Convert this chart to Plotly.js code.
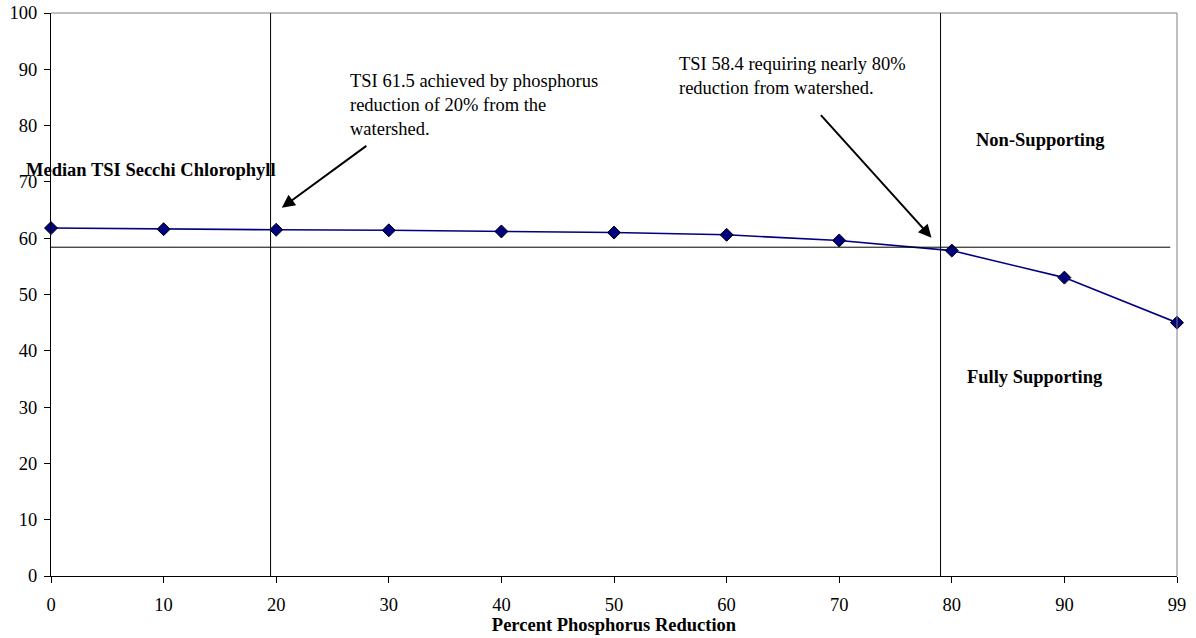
<!DOCTYPE html>
<html>
<head>
<meta charset="utf-8">
<script src="https://cdn.plot.ly/plotly-3.0.1.min.js"></script>
<style>html,body{margin:0;padding:0;background:#fff;}#chart{width:1196px;height:638px;}</style>
</head>
<body>
<div id="chart"></div>
<script>
const reduction = ["0","10","20","30","40","50","60","70","80","90","99"];
const medianTSI = [61.8, 61.6, 61.5, 61.4, 61.2, 61.0, 60.6, 59.6, 57.8, 53.0, 45.0];
const targetTSI = 58.4;
const line20 = 1.95;   // category-index position of the ~20% reduction line
const line80 = 7.9;    // category-index position of the ~80% reduction line

const font = "Liberation Serif, Times New Roman, serif";
const fs = 18.5;

const trace = {
  x: reduction, y: medianTSI, type: "scatter", mode: "lines+markers",
  line: {color: "#000080", width: 1.6},
  marker: {symbol: "diamond", size: 10, color: "#000080", line: {color: "#000000", width: 1}},
  cliponaxis: false,
  hoverinfo: "x+y", showlegend: false
};

const layout = {
  width: 1196, height: 638,
  margin: {l: 51, r: 19, t: 13, b: 62},
  paper_bgcolor: "#ffffff", plot_bgcolor: "#ffffff",
  font: {family: font, size: fs, color: "#000"},
  showlegend: false,
  xaxis: {
    type: "category", range: [0, 10], showgrid: false, zeroline: false,
    showline: true, linecolor: "#000", linewidth: 1,
    ticks: "outside", ticklen: 6, tickcolor: "#000", ticklabelstandoff: 6,
    tickfont: {family: font, size: fs, color: "#000"},
    title: {text: "<b>Percent Phosphorus Reduction</b>", font: {family: font, size: fs, color: "#000"}, standoff: 2}
  },
  yaxis: {
    range: [0, 100], dtick: 10, showgrid: false, zeroline: false,
    showline: true, linecolor: "#000", linewidth: 1,
    ticks: "outside", ticklen: 6, tickcolor: "#000", ticklabelstandoff: 3,
    tickfont: {family: font, size: fs, color: "#000"}
  },
  shapes: [
    {type: "line", xref: "paper", yref: "paper", x0: 0, x1: 1, y0: 1, y1: 1, line: {color: "#808080", width: 1}},
    {type: "line", xref: "paper", yref: "paper", x0: 1, x1: 1, y0: 0, y1: 1, line: {color: "#808080", width: 1}},
    {type: "line", xref: "x", yref: "y", x0: 0, x1: 9.94, y0: targetTSI, y1: targetTSI, line: {color: "#000", width: 1}},
    {type: "line", xref: "x", yref: "paper", x0: line20, x1: line20, y0: 0, y1: 1, line: {color: "#000", width: 1}},
    {type: "line", xref: "x", yref: "paper", x0: line80, x1: line80, y0: 0, y1: 1, line: {color: "#000", width: 1}}
  ],
  annotations: [
    {xref: "paper", yref: "y", x: -0.024, y: 72.2, xanchor: "left", yanchor: "middle",
     text: "<b>Median TSI Secchi Chlorophyll</b>", showarrow: false, font: {family: font, size: fs, color: "#000"}},
    {xref: "x", yref: "y", x: 8.2, y: 77.5, xanchor: "left", yanchor: "middle",
     text: "<b>Non-Supporting</b>", showarrow: false, font: {family: font, size: fs, color: "#000"}},
    {xref: "x", yref: "y", x: 8.12, y: 35.4, xanchor: "left", yanchor: "middle",
     text: "<b>Fully Supporting</b>", showarrow: false, font: {family: font, size: fs, color: "#000"}},
    {xref: "x", yref: "y", x: 2.64, y: 90.0, xanchor: "left", yanchor: "top", align: "left",
     text: "TSI 61.5 achieved by phosphorus<br>reduction of 20% from the<br>watershed.", showarrow: false,
     font: {family: font, size: fs, color: "#000"}},
    {xref: "x", yref: "y", x: 5.56, y: 93.0, xanchor: "left", yanchor: "top", align: "left",
     text: "TSI 58.4 requiring nearly 80%<br>reduction from watershed.", showarrow: false,
     font: {family: font, size: fs, color: "#000"}},
    {xref: "x", yref: "y", x: 2.05, y: 65.4, text: "", showarrow: true, ax: 86, ay: -63,
     arrowhead: 2, arrowsize: 1.3, arrowwidth: 2, arrowcolor: "#000", standoff: 0},
    {xref: "x", yref: "y", x: 7.82, y: 60.1, text: "", showarrow: true, ax: -112, ay: -124,
     arrowhead: 2, arrowsize: 1.3, arrowwidth: 2, arrowcolor: "#000", standoff: 0}
  ]
};

Plotly.newPlot("chart", [trace], layout, {displayModeBar: false, staticPlot: true});
</script>
</body>
</html>
